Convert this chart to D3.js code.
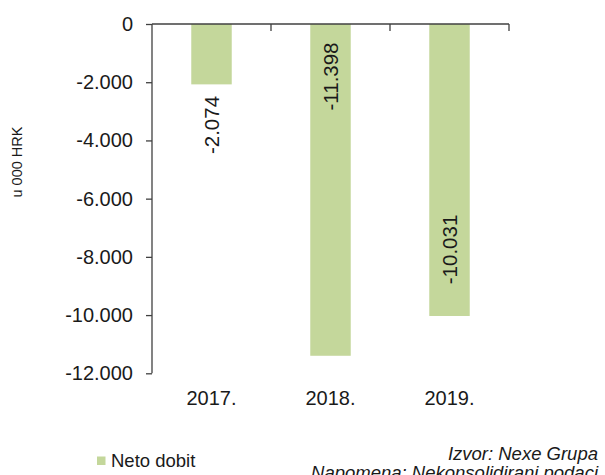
<!DOCTYPE html>
<html>
<head>
<meta charset="utf-8">
<script src="https://cdn.jsdelivr.net/npm/d3@7"></script>
<style>
  html, body { margin: 0; padding: 0; background: #fff; }
  svg { display: block; font-family: "Liberation Sans", Arial, sans-serif; }
</style>
</head>
<body>
<svg id="chart" width="605" height="475"></svg>
<script>
const categories = ["2017.", "2018.", "2019."];
const netoDobit = [-2074, -11398, -10031];
const valueLabels = ["-2.074", "-11.398", "-10.031"];
const yTicks = [0, -2000, -4000, -6000, -8000, -10000, -12000];
const yTickLabels = ["0", "-2.000", "-4.000", "-6.000", "-8.000", "-10.000", "-12.000"];
const seriesName = "Neto dobit";
const yTitle = "u 000 HRK";
const sourceLines = ["Izvor: Nexe Grupa", "Napomena: Nekonsolidirani podaci"];

// label anchor (in value units) where each rotated data label is centred
const labelAnchor = [-3470, -1803, -7746];

const svg = d3.select("#chart");
const barColor = "#c4d79b";
const axisColor = "#404040";
const textColor = "#1a1a1a";

const plotLeft = 152, plotRight = 509, plotTop = 24, plotBottom = 373.3;

const x = d3.scaleBand().domain(categories).range([plotLeft, plotRight])
  .paddingInner(0.66).paddingOuter(0.33);
const y = d3.scaleLinear().domain([-12000, 0]).range([plotBottom, plotTop]);

// bars
svg.append("g").selectAll("rect").data(netoDobit).join("rect")
  .attr("x", (d, i) => x(categories[i]))
  .attr("width", x.bandwidth())
  .attr("y", y(0))
  .attr("height", d => y(d) - y(0))
  .attr("fill", barColor);

// y axis
const yAxis = d3.axisLeft(y).tickValues(yTicks)
  .tickFormat((d, i) => yTickLabels[i]).tickSize(6).tickPadding(13);
const gy = svg.append("g").attr("transform", `translate(${plotLeft},0)`).call(yAxis);
gy.select(".domain").attr("stroke", axisColor).attr("stroke-width", 1.3).attr("d", `M0,${y(0)}V${y(-12000)}`);
gy.selectAll(".tick line").attr("stroke", axisColor).attr("stroke-width", 1.3);
gy.selectAll(".tick text").attr("fill", textColor).style("font-size", "20px")
  .style("font-family", "'Liberation Sans', Arial, sans-serif");

// x axis at zero line (boundary ticks pointing down)
const step = x.step();
const boundaries = categories.map((c, i) => x(c) - x.paddingInner() * step / 2 + step);
svg.append("path")
  .attr("d", `M${plotLeft},${y(0)}H${plotRight}`)
  .attr("stroke", axisColor).attr("stroke-width", 1.3).attr("fill", "none");
svg.append("g").selectAll("line").data(boundaries).join("line")
  .attr("x1", d => d).attr("x2", d => d)
  .attr("y1", y(0)).attr("y2", y(0) + 7)
  .attr("stroke", axisColor).attr("stroke-width", 1.3);

// category labels
svg.append("g").selectAll("text").data(categories).join("text")
  .attr("x", d => x(d) + x.bandwidth() / 2)
  .attr("y", 405)
  .attr("text-anchor", "middle")
  .attr("fill", textColor)
  .style("font-size", "20px")
  .text(d => d);

// data labels
svg.append("g").selectAll("text").data(valueLabels).join("text")
  .attr("transform", (d, i) => `translate(${x(categories[i]) + x.bandwidth() / 2},${y(labelAnchor[i])}) rotate(-90)`)
  .attr("text-anchor", "middle")
  .attr("dominant-baseline", "central")
  .attr("fill", textColor)
  .style("font-size", "20.5px")
  .text(d => d);

// y title
svg.append("text")
  .attr("transform", `translate(17,162) rotate(-90)`)
  .attr("text-anchor", "middle")
  .attr("dominant-baseline", "central")
  .attr("fill", textColor)
  .style("font-size", "14.5px")
  .text(yTitle);

// legend
svg.append("rect").attr("x", 97).attr("y", 456.5).attr("width", 8.5).attr("height", 8.5).attr("fill", barColor);
svg.append("text").attr("x", 111).attr("y", 467)
  .attr("fill", textColor).style("font-size", "18.5px").text(seriesName);

// source
svg.append("g").selectAll("text").data(sourceLines).join("text")
  .attr("x", 598)
  .attr("y", (d, i) => 460 + i * 19)
  .attr("text-anchor", "end")
  .attr("fill", textColor)
  .style("font-size", "18.5px")
  .style("font-style", "italic")
  .text(d => d);
</script>
</body>
</html>
